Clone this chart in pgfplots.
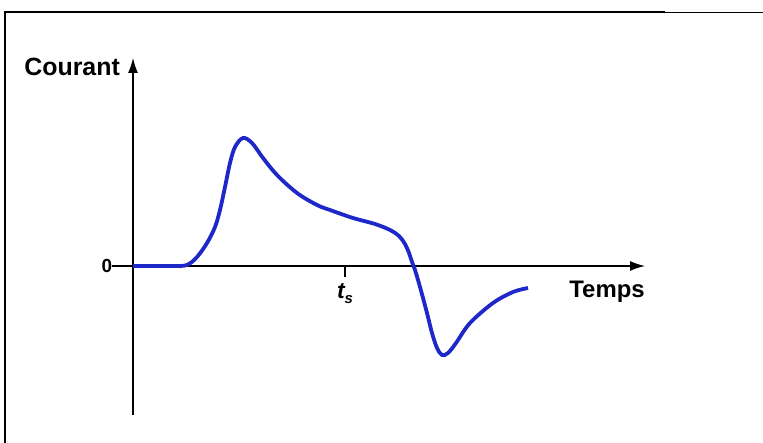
\documentclass[border=0pt]{standalone}
\usepackage{pgfplots}
\pgfplotsset{compat=1.18}
\usepackage{fontspec}
\setmainfont{Liberation Sans}
\usetikzlibrary{arrows.meta}
\definecolor{curveblue}{RGB}{30,40,200}
\begin{document}
\begin{tikzpicture}[x=1bp,y=1bp]
\useasboundingbox (0,0) rectangle (763,443);
\fill[white] (0,0) rectangle (763,443);
\draw[line width=1.6bp] (5,0) -- (5,431) -- (665,431);
\draw[line width=1.6bp] (665,430.3) -- (763,430.3);
\begin{axis}[
  at={(112bp,28bp)}, anchor=south west,
  scale only axis, width=533bp, height=357bp,
  xmin=-21, xmax=512, ymin=-149, ymax=208,
  hide axis,
  xtick=\empty, ytick=\empty,
  clip=false,
]
\draw[line width=1.4bp, -{Latex[length=15bp,width=10bp]}] (axis cs:-21,0) -- (axis cs:512,0);
\draw[line width=1.4bp, -{Latex[length=15bp,width=10bp]}] (axis cs:0,-149) -- (axis cs:0,208);
\addplot[curveblue, line width=3.8bp, smooth, tension=0.55] coordinates {
(0,0) (20,0) (40,0) (54,1) (64,9) (74,23) (82,39) (87,56) (92,79) (97,103)
(102,119) (110,128) (119,123) (130,108) (144,91) (164,73) (184,61) (197,56)
(220,48) (242,42) (257,36) (266,30) (272,22) (276,13)
(279,4) (282,-4) (287,-21) (294,-47) (299,-67) (304,-82) (309,-89) (315,-87)
(323,-77) (337,-57) (360,-37) (380,-26) (395,-22)
};
\draw[line width=1.4bp] (axis cs:212,0) -- (axis cs:212,-11);
\node[font=\fontsize{23}{23}\selectfont\bfseries\itshape, inner sep=0pt] at (axis cs:212,-28) {t\raisebox{-5bp}{\fontsize{15}{15}\selectfont s}};
\node[anchor=east, font=\fontsize{25}{25}\selectfont\bfseries, inner sep=0pt] at (axis cs:-13,199) {Courant};
\node[font=\fontsize{19}{19}\selectfont\bfseries, inner sep=0pt] at (axis cs:-26,0) {0};
\node[font=\fontsize{24}{24}\selectfont\bfseries, inner sep=0pt] at (axis cs:474,-26) {Temps};
\end{axis}
\end{tikzpicture}
\end{document}
